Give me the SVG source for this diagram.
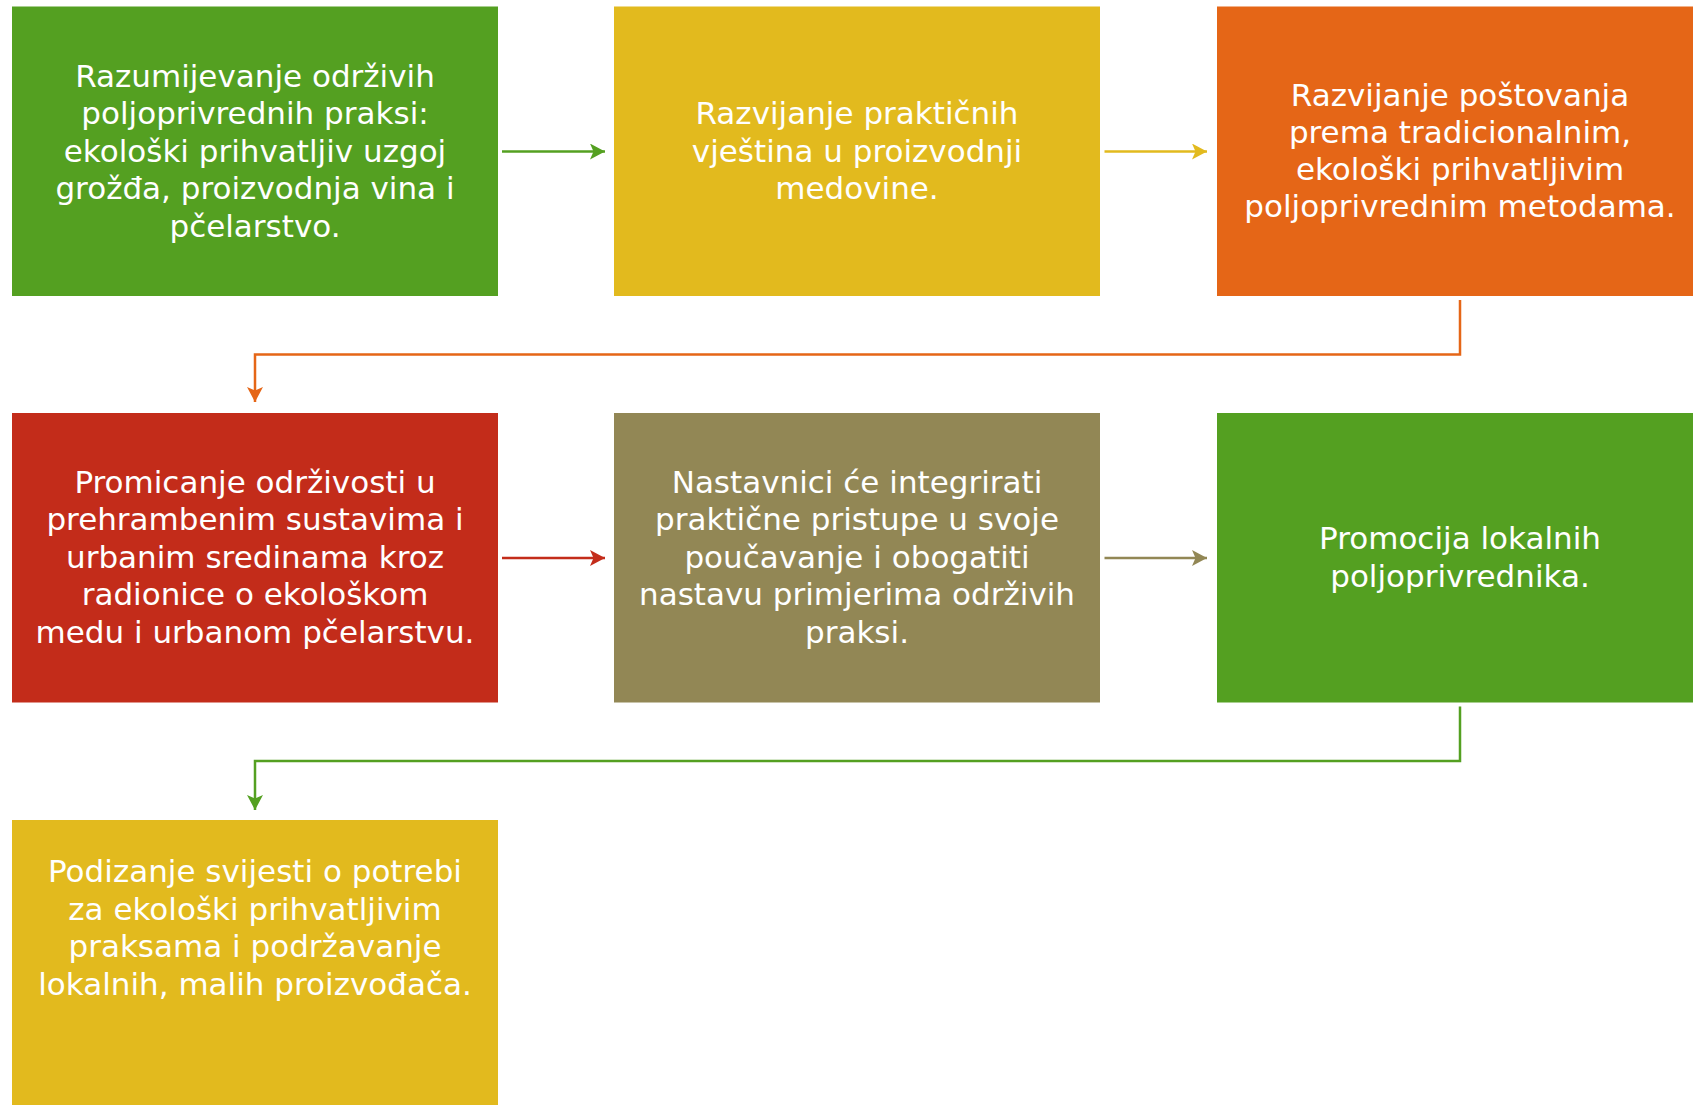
<svg xmlns="http://www.w3.org/2000/svg" width="1693" height="1105" viewBox="0 0 1693 1105">
<style>
.lbl{font-family:"DejaVu Sans","Liberation Sans",sans-serif;font-size:31px;fill:#ffffff;text-anchor:middle}
.c{fill:none;stroke-width:2.5}
</style>
<defs>
<marker id="mG" markerUnits="userSpaceOnUse" markerWidth="16" markerHeight="16" refX="15" refY="8" orient="auto"><path d="M0,0 L15,8 L0,16 L3.5,8 Z" fill="#54A021"/></marker>
<marker id="mY" markerUnits="userSpaceOnUse" markerWidth="16" markerHeight="16" refX="15" refY="8" orient="auto"><path d="M0,0 L15,8 L0,16 L3.5,8 Z" fill="#E2BA1E"/></marker>
<marker id="mO" markerUnits="userSpaceOnUse" markerWidth="16" markerHeight="16" refX="15" refY="8" orient="auto"><path d="M0,0 L15,8 L0,16 L3.5,8 Z" fill="#E56617"/></marker>
<marker id="mR" markerUnits="userSpaceOnUse" markerWidth="16" markerHeight="16" refX="15" refY="8" orient="auto"><path d="M0,0 L15,8 L0,16 L3.5,8 Z" fill="#C32C1A"/></marker>
<marker id="mL" markerUnits="userSpaceOnUse" markerWidth="16" markerHeight="16" refX="15" refY="8" orient="auto"><path d="M0,0 L15,8 L0,16 L3.5,8 Z" fill="#928755"/></marker>
</defs>
<rect width="1693" height="1105" fill="#ffffff"/>
<g id="n1">
<rect x="12" y="6.5" width="486" height="289.5" fill="#54A021"/>
<text class="lbl"><tspan x="255" y="86.5">Razumijevanje održivih</tspan><tspan x="255" y="124">poljoprivrednih praksi:</tspan><tspan x="255" y="161.5">ekološki prihvatljiv uzgoj</tspan><tspan x="255" y="199">grožđa, proizvodnja vina i</tspan><tspan x="255" y="236.5">pčelarstvo.</tspan></text>
</g>
<g id="n2">
<rect x="614" y="6.5" width="486" height="289.5" fill="#E2BA1E"/>
<text class="lbl"><tspan x="857" y="124">Razvijanje praktičnih</tspan><tspan x="857" y="161.5">vještina u proizvodnji</tspan><tspan x="857" y="199">medovine.</tspan></text>
</g>
<g id="n3">
<rect x="1217" y="6.5" width="486" height="289.5" fill="#E56617"/>
<text class="lbl"><tspan x="1460" y="106">Razvijanje poštovanja</tspan><tspan x="1460" y="143">prema tradicionalnim,</tspan><tspan x="1460" y="180">ekološki prihvatljivim</tspan><tspan x="1460" y="217">poljoprivrednim metodama.</tspan></text>
</g>
<g id="n4">
<rect x="12" y="413" width="486" height="289.5" fill="#C32C1A"/>
<text class="lbl"><tspan x="255" y="492.5">Promicanje održivosti u</tspan><tspan x="255" y="530">prehrambenim sustavima i</tspan><tspan x="255" y="567.5">urbanim sredinama kroz</tspan><tspan x="255" y="605">radionice o ekološkom</tspan><tspan x="255" y="642.5">medu i urbanom pčelarstvu.</tspan></text>
</g>
<g id="n5">
<rect x="614" y="413" width="486" height="289.5" fill="#928755"/>
<text class="lbl"><tspan x="857" y="492.5">Nastavnici će integrirati</tspan><tspan x="857" y="530">praktične pristupe u svoje</tspan><tspan x="857" y="567.5">poučavanje i obogatiti</tspan><tspan x="857" y="605">nastavu primjerima održivih</tspan><tspan x="857" y="642.5">praksi.</tspan></text>
</g>
<g id="n6">
<rect x="1217" y="413" width="486" height="289.5" fill="#54A021"/>
<text class="lbl"><tspan x="1460" y="549">Promocija lokalnih</tspan><tspan x="1460" y="586.5">poljoprivrednika.</tspan></text>
</g>
<g id="n7">
<rect x="12" y="820" width="486" height="300" fill="#E2BA1E"/>
<text class="lbl"><tspan x="255" y="882">Podizanje svijesti o potrebi</tspan><tspan x="255" y="919.5">za ekološki prihvatljivim</tspan><tspan x="255" y="957">praksama i podržavanje</tspan><tspan x="255" y="994.5">lokalnih, malih proizvođača.</tspan></text>
</g>
<g id="connectors">
<path class="c" d="M502,151.5 H605" stroke="#54A021" marker-end="url(#mG)"/>
<path class="c" d="M1104.5,151.5 H1207" stroke="#E2BA1E" marker-end="url(#mY)"/>
<path class="c" d="M1460,300 V354.5 H255 V402" stroke="#E56617" marker-end="url(#mO)"/>
<path class="c" d="M502,558 H605" stroke="#C32C1A" marker-end="url(#mR)"/>
<path class="c" d="M1104.5,558 H1207" stroke="#928755" marker-end="url(#mL)"/>
<path class="c" d="M1460,706.5 V761 H255 V810" stroke="#54A021" marker-end="url(#mG)"/>
</g>
</svg>
